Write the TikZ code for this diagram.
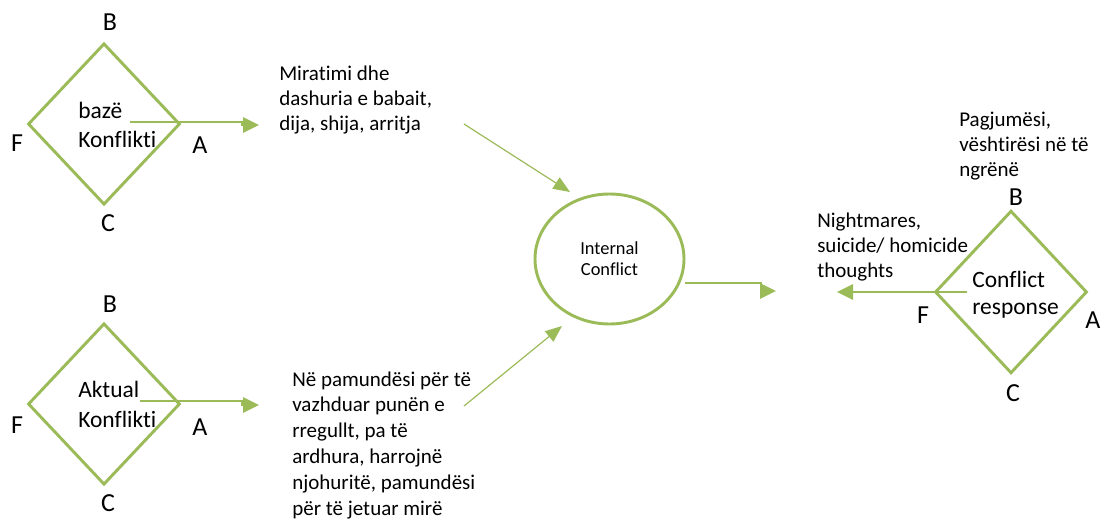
\documentclass[tikz,border=0pt]{standalone}
\usepackage{fontspec}
\setmainfont{Carlito}[Ligatures=NoCommon]
\usetikzlibrary{arrows.meta,positioning,calc,shapes.geometric}
\definecolor{leaf}{HTML}{9BBB59}

\begin{document}
\begin{tikzpicture}[x=0.75pt,y=-0.75pt,
  every node/.style={inner sep=0pt},
  rhomb/.style={draw=leaf,line width=2.2pt,diamond,minimum width=114pt,minimum height=121pt},
  corner/.style={font=\fontsize{19.5}{22}\selectfont},
  inside/.style={align=left,anchor=base west,font=\fontsize{17.6}{21.75}\selectfont},
  note/.style={align=left,anchor=base west,font=\fontsize{15.75}{18.75}\selectfont},
  flow/.style={leaf,line width=1.5pt,-{Triangle[length=12pt,width=11.5pt]}},
  feed/.style={leaf,line width=0.9pt,-{Triangle[length=12.5pt,width=10pt]}}]
  \useasboundingbox (0,0) rectangle (1103,521);
  % diamonds
  \node[rhomb] (base) at (104,124) {};
  \node[rhomb] (actual) at (104,404) {};
  \node[rhomb,minimum height=122pt] (resp) at (1011,292) {};
  \foreach \x/\y/\t/\n in {110/22/B/b1,17/143/F/f1,200/145/A/a1,108/223/C/c1,
                           110/304/B/b2,17/425/F/f2,200/427/A/a2,108/503/C/c2,
                           1016/197/B/b3,923/315/F/f3,1093/320/A/a3,1013/393/C/c3}
    \node[corner] (\n) at (\x,\y) {\t};
  \node[inside] (basetxt) at (78,147) {bazë\\Konflikti};
  \node[inside,font=\fontsize{17.6}{22.5}\selectfont] (actualtxt) at (78,427) {Aktual\\Konflikti};
  \node[inside,font=\fontsize{17.6}{20.25}\selectfont] (resptxt) at (972,314) {Conflict\\response};
  % centre
  \node[draw=leaf,line width=2.2pt,ellipse,minimum width=111.75pt,minimum height=97.5pt,
        align=center,font=\fontsize{13.8}{15.75}\selectfont] (ic) at (609.5,259) {Internal\\Conflict};
  % notes
  \node[note] (love) at (279,130) {Miratimi dhe\\dashuria e babait,\\dija, shija, arritja};
  \node[note,font=\fontsize{15.75}{19.35}\selectfont] (loss) at (292,515)
       {Në pamundësi për të\\vazhduar punën e\\rregullt, pa të\\ardhura, harrojnë\\njohuritë, pamundësi\\për të jetuar mirë};
  \node[note,font=\fontsize{15.75}{18.4}\selectfont] (sleep) at (959,176) {Pagjumësi,\\vështirësi në të\\ngrënë};
  \node[note,font=\fontsize{15.75}{18.4}\selectfont] (dreams) at (817,277) {Nightmares,\\suicide/ homicide\\thoughts};
  % connectors
  \coordinate (p1) at (130,122); \coordinate (q1) at (259,125);
  \draw[flow] (p1) -- ++(112,0) |- (q1);
  \coordinate (p2) at (140,401); \coordinate (q2) at (259,405);
  \draw[flow] (p2) -- ++(102,0) |- (q2);
  \coordinate (p3) at (464,124); \coordinate (q3) at (570,192);
  \draw[feed] (p3) -- (q3);
  \coordinate (p4) at (464,406); \coordinate (q4) at (562,326);
  \draw[feed] (p4) -- (q4);
  \coordinate (q5) at (776,291);
  \draw[flow] ($(ic.east)+(0,24)$) -- ++(76,0) |- (q5);
  \coordinate (p6) at (967,292); \coordinate (q6) at (837,292);
  \draw[flow] (p6) -- (q6);
\end{tikzpicture}
\end{document}
